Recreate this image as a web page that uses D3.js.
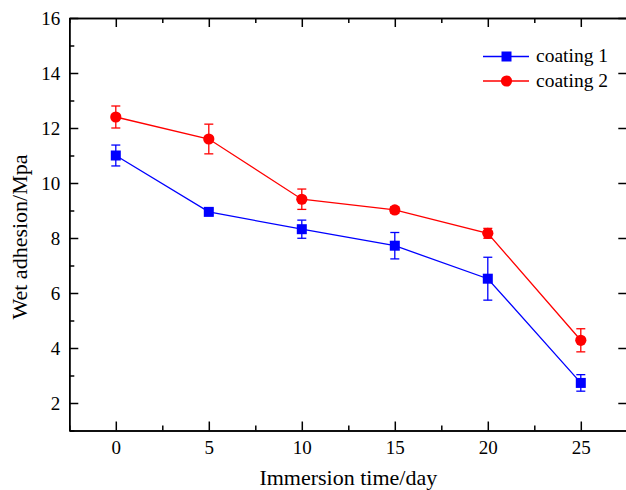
<!DOCTYPE html>
<html>
<head>
<meta charset="utf-8">
<script src="https://cdn.jsdelivr.net/npm/d3@7/dist/d3.min.js"></script>
<style>
  html, body { margin: 0; padding: 0; background: #fff; }
  svg { display: block; }
  text { font-family: "Liberation Serif", "Times New Roman", serif; fill: #000; }
</style>
</head>
<body>
<svg id="chart" width="626" height="490" font-family="Liberation Serif, Times New Roman, serif"></svg>
<script>
// Immersion time (days)
const days = [0, 5, 10, 15, 20, 25];
// Wet adhesion (MPa) and standard deviations
const coating1 = [11.0, 8.95, 8.32, 7.72, 6.52, 2.73];
const coating1Err = [0.38, 0.1, 0.33, 0.48, 0.78, 0.3];
const coating2 = [12.4, 11.6, 9.41, 9.02, 8.17, 4.28];
const coating2Err = [0.4, 0.54, 0.37, 0.12, 0.18, 0.42];
const seriesNames = ["coating 1", "coating 2"];
const xTicks = [0, 5, 10, 15, 20, 25];
const xMinor = [-2.5, 2.5, 7.5, 12.5, 17.5, 22.5, 27.5];
const yTicks = [2, 4, 6, 8, 10, 12, 14, 16];
const yMinor = [1, 3, 5, 7, 9, 11, 13, 15];

const svg = d3.select("#chart");
const plotLeft = 69.3, plotRight = 627.3, plotTop = 18, plotBottom = 430.5;
const serif = "Liberation Serif, Times New Roman, serif";

const x = d3.scaleLinear().domain([-2.5, 27.5]).range([plotLeft, plotRight]);
const y = d3.scaleLinear().domain([1, 16]).range([plotBottom, plotTop]);

const axisStyle = g => {
  g.attr("font-family", serif);
  g.select(".domain").attr("stroke", "#000").attr("stroke-width", 1.5);
  g.selectAll(".tick line").attr("stroke", "#000").attr("stroke-width", 1.5);
  g.selectAll(".tick text").attr("font-size", 19).attr("font-family", serif);
};

// Bottom axis: major ticks with labels, minor ticks between them
svg.append("g").attr("transform", `translate(0,${plotBottom})`)
  .call(d3.axisBottom(x).tickValues(xTicks).tickSize(-9).tickPadding(10).tickSizeOuter(0).tickFormat(d3.format("d")))
  .call(axisStyle);
svg.append("g").attr("transform", `translate(0,${plotBottom})`)
  .call(d3.axisBottom(x).tickValues(xMinor).tickSize(-5).tickSizeOuter(0).tickFormat(""))
  .call(axisStyle);

// Top mirror axis
svg.append("g").attr("transform", `translate(0,${plotTop})`)
  .call(d3.axisTop(x).tickValues(xTicks).tickSize(-9).tickSizeOuter(0).tickFormat(""))
  .call(axisStyle);
svg.append("g").attr("transform", `translate(0,${plotTop})`)
  .call(d3.axisTop(x).tickValues(xMinor).tickSize(-5).tickSizeOuter(0).tickFormat(""))
  .call(axisStyle);

// Left axis
svg.append("g").attr("transform", `translate(${plotLeft},0)`)
  .call(d3.axisLeft(y).tickValues(yTicks).tickSize(-9).tickPadding(9).tickSizeOuter(0).tickFormat(d3.format("d")))
  .call(axisStyle);
svg.append("g").attr("transform", `translate(${plotLeft},0)`)
  .call(d3.axisLeft(y).tickValues(yMinor).tickSize(-5).tickSizeOuter(0).tickFormat(""))
  .call(axisStyle);

// Right mirror axis
svg.append("g").attr("transform", `translate(${plotRight},0)`)
  .call(d3.axisRight(y).tickValues(yTicks).tickSize(-9).tickSizeOuter(0).tickFormat(""))
  .call(axisStyle);

// Axis titles
svg.append("text")
  .attr("x", (x(-2.5) + x(27.5)) / 2).attr("y", 485)
  .attr("text-anchor", "middle").attr("font-size", 22).attr("font-family", serif)
  .text("Immersion time/day");
svg.append("text")
  .attr("transform", `translate(27,${237}) rotate(-90)`)
  .attr("text-anchor", "middle").attr("font-size", 22).attr("font-family", serif)
  .text("Wet adhesion/Mpa");

const series = [
  { name: seriesNames[0], values: coating1, err: coating1Err, color: "#0000ff", shape: "square" },
  { name: seriesNames[1], values: coating2, err: coating2Err, color: "#ff0000", shape: "circle" }
];

const line = d3.line().x((d, i) => x(days[i])).y(d => y(d));

function drawMarker(g, shape, cx, cy, color) {
  if (shape === "square") {
    g.append("rect").attr("x", cx - 5).attr("y", cy - 5).attr("width", 10).attr("height", 10).attr("fill", color);
  } else {
    g.append("circle").attr("cx", cx).attr("cy", cy).attr("r", 5.6).attr("fill", color);
  }
}

series.forEach(s => {
  const g = svg.append("g");
  g.append("path").datum(s.values).attr("d", line)
    .attr("fill", "none").attr("stroke", s.color).attr("stroke-width", 1.3);
  s.values.forEach((v, i) => {
    const cx = x(days[i]);
    const y0 = y(v - s.err[i]), y1 = y(v + s.err[i]);
    g.append("line").attr("x1", cx).attr("x2", cx).attr("y1", y0).attr("y2", y1)
      .attr("stroke", s.color).attr("stroke-width", 1.3);
    [y0, y1].forEach(yy => g.append("line")
      .attr("x1", cx - 4.5).attr("x2", cx + 4.5).attr("y1", yy).attr("y2", yy)
      .attr("stroke", s.color).attr("stroke-width", 1.3));
    drawMarker(g, s.shape, cx, y(v), s.color);
  });
});

// Legend
series.forEach((s, i) => {
  const ly = 56.5 + i * 24.5;
  const g = svg.append("g");
  g.append("line").attr("x1", 483).attr("x2", 529).attr("y1", ly).attr("y2", ly)
    .attr("stroke", s.color).attr("stroke-width", 1.3);
  drawMarker(g, s.shape, 506.5, ly, s.color);
  g.append("text").attr("x", 536).attr("y", ly + 5.5).attr("font-size", 19.5)
    .attr("font-family", serif).text(s.name);
});
</script>
</body>
</html>
